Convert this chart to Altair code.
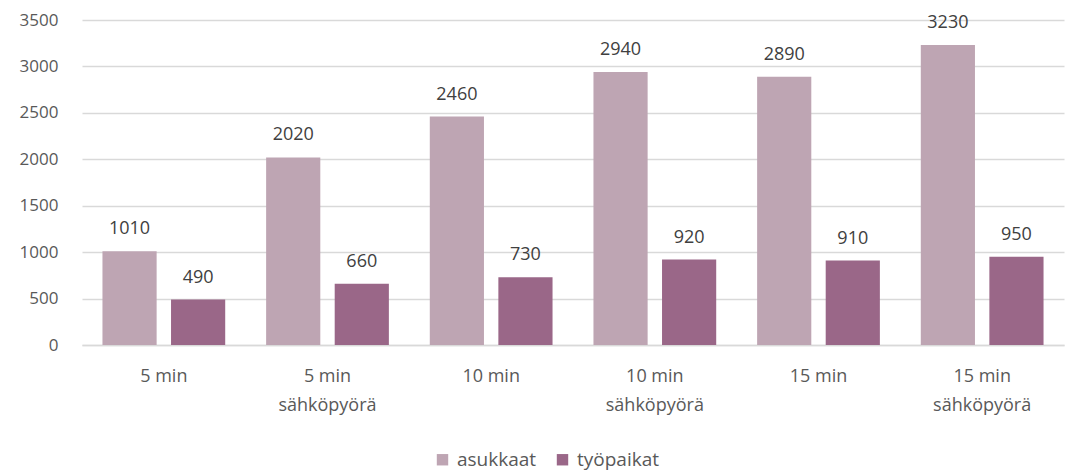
import altair as alt
import pandas as pd

categories = ["5 min", "5 min\nsähköpyörä", "10 min", "10 min\nsähköpyörä", "15 min", "15 min\nsähköpyörä"]
asukkaat = [1010, 2020, 2460, 2940, 2890, 3230]
tyopaikat = [490, 660, 730, 920, 910, 950]
series = ["asukkaat", "työpaikat"]
colors = ["#BEA5B3", "#9A6788"]

rows = []
for i, c in enumerate(categories):
    rows.append({"cat": c, "series": series[0], "value": asukkaat[i]})
    rows.append({"cat": c, "series": series[1], "value": tyopaikat[i]})
df = pd.DataFrame(rows)

FONT = "Open Sans"

x = alt.X("cat:N", sort=categories, title=None,
          scale=alt.Scale(paddingInner=0.25, paddingOuter=0.125),
          axis=alt.Axis(labelExpr="split(datum.label, '\\n')", labelAngle=0,
                        labelFontSize=18, labelColor="#595959", labelFont=FONT,
                        labelPadding=22, tickSize=0, domainColor="#D9D9D9",
                        domainWidth=1.5, labelLineHeight=29))
xo = alt.XOffset("series:N", sort=series, scale=alt.Scale(paddingInner=0.21, paddingOuter=0))
y = alt.Y("value:Q", title=None,
          scale=alt.Scale(domain=[0, 3500]),
          axis=alt.Axis(values=list(range(0, 3501, 500)), format="d", labelFontSize=17,
                        labelColor="#595959", labelFont=FONT, labelPadding=24,
                        tickSize=0, domain=False, gridColor="#D9D9D9", gridWidth=1.5))

color = alt.Color("series:N", sort=series,
                  scale=alt.Scale(domain=series, range=colors),
                  legend=alt.Legend(title=None, orient="none", legendX=351, legendY=430,
                                    direction="horizontal", symbolType="square",
                                    symbolSize=130, symbolStrokeWidth=0,
                                    labelFontSize=19, labelColor="#595959", labelFont=FONT,
                                    columnPadding=16, labelOffset=5))

base = alt.Chart(df).encode(x=x, xOffset=xo, y=y)
bars = base.mark_bar().encode(color=color)
labels = base.mark_text(dy=-17, baseline="alphabetic", fontSize=18, color="#404040", font=FONT).encode(
    text=alt.Text("value:Q"))

chart = (bars + labels).properties(
    width=982, height=325,
    autosize=alt.AutoSizeParams(type="none"),
    padding={"left": 74, "top": 12, "right": 2, "bottom": 128},
).configure_view(stroke=None)

chart.save("out.html", embed_options={"renderer": "svg", "actions": False})
